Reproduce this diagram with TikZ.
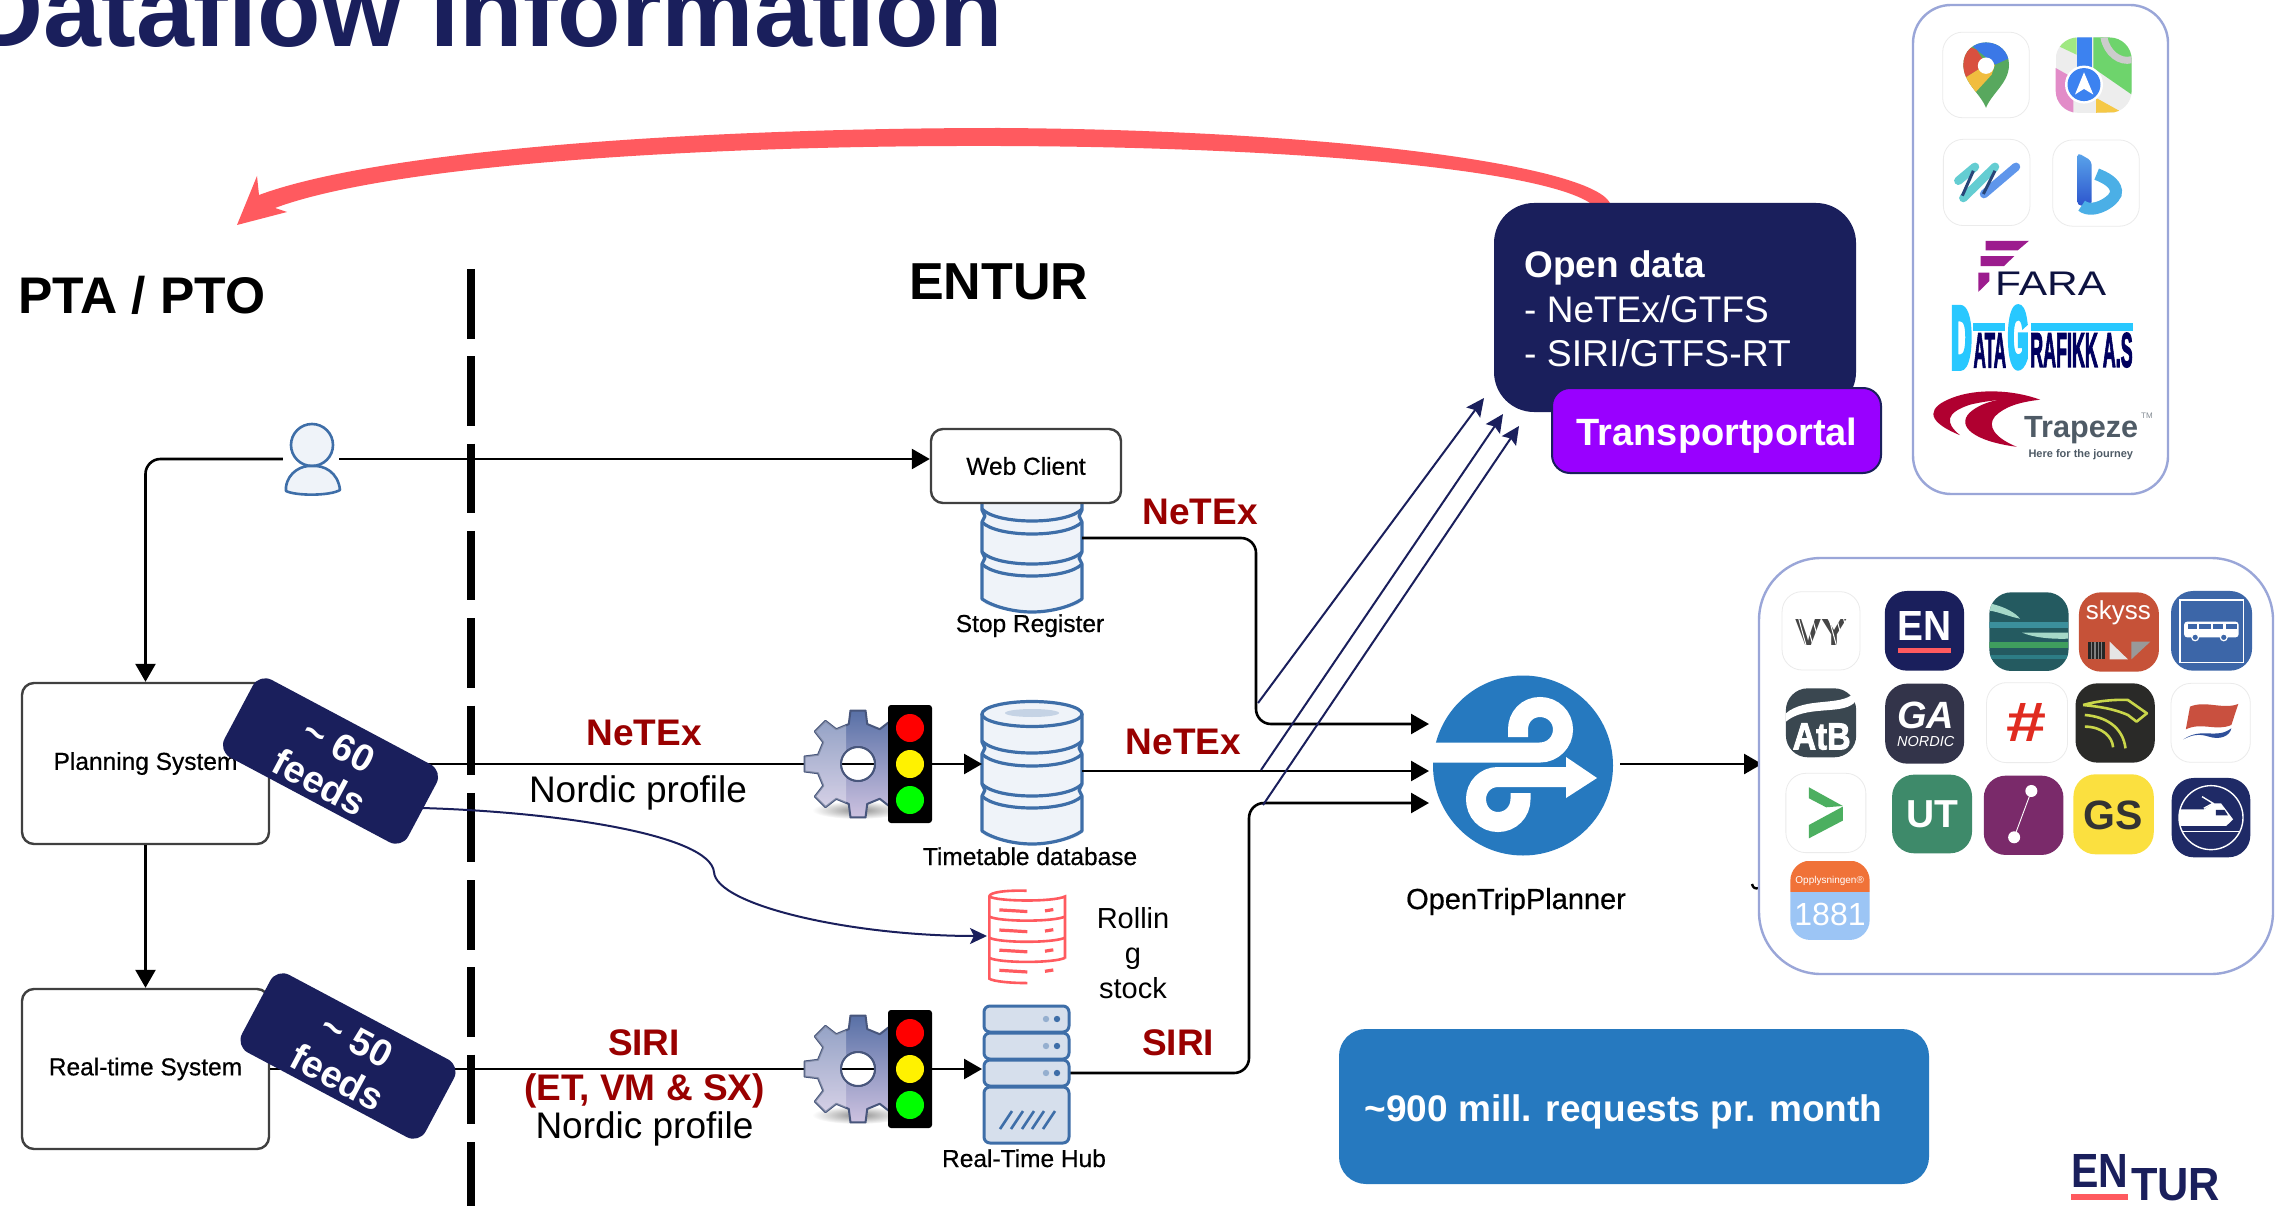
\documentclass[tikz,border=0pt]{standalone}
\usepackage{fontspec}
\setmainfont{Liberation Sans}
\newfontfamily\semib[FakeBold=0.6]{Liberation Sans}
\newfontfamily\heavyb[UprightFont={* Bold},FakeBold=2.5]{Liberation Sans}
\newcommand{\fatglyph}[2]{\special{pdf:code q #1 w 2 Tr}#2\special{pdf:code Q 0 Tr}}
\usetikzlibrary{arrows.meta,calc}
\definecolor{navy}{HTML}{1A1F5C}
\definecolor{netexred}{HTML}{990000}
\definecolor{coral}{HTML}{FF5A5F}
\definecolor{iconblue}{HTML}{3E6EA8}
\definecolor{iconfill}{HTML}{EFF3F9}
\definecolor{panelline}{HTML}{9AA6D8}
\definecolor{otpblue}{HTML}{2679BF}
\definecolor{geartop}{HTML}{5870A6}
\definecolor{gearbot}{HTML}{CDC2E0}
\definecolor{gearline}{HTML}{48567C}
\definecolor{serverfill}{HTML}{D6DFEC}
\definecolor{portalviolet}{HTML}{9900FF}
\definecolor{gmgreen}{HTML}{58A85E}
\definecolor{gmblue}{HTML}{3B78E7}
\definecolor{gmred}{HTML}{D9503F}
\definecolor{gmyellow}{HTML}{F1BD3F}
\definecolor{amlgreen}{HTML}{A0E882}
\definecolor{amgreen}{HTML}{6ED46C}
\definecolor{ampink}{HTML}{E28CC8}
\definecolor{amyellow}{HTML}{F5C846}
\definecolor{amblue}{HTML}{3C82F0}
\definecolor{wuteal}{HTML}{64CDD2}
\definecolor{wublue}{HTML}{5F96EB}
\definecolor{wudark}{HTML}{284678}
\definecolor{bingtop}{HTML}{5AA5EB}
\definecolor{bingbot}{HTML}{2D55CD}
\definecolor{bingbowl}{HTML}{4BAFE6}
\definecolor{farapurple}{HTML}{9C1C8E}
\definecolor{faranavy}{HTML}{0D1240}
\definecolor{dgcyan}{HTML}{28C8FF}
\definecolor{dgnavy}{HTML}{00005F}
\definecolor{trapred}{HTML}{B00030}
\definecolor{trapgray}{HTML}{4F5B66}
\definecolor{vygray}{HTML}{464646}
\definecolor{tealbase}{HTML}{245A60}
\definecolor{tealband}{HTML}{3B8F9C}
\definecolor{tealgreen}{HTML}{3F9E5E}
\definecolor{tealdark}{HTML}{2D7D85}
\definecolor{tealmint}{HTML}{A5D8C8}
\definecolor{skyssred}{HTML}{C65238}
\definecolor{busblue}{HTML}{3C66A8}
\definecolor{atbgray}{HTML}{3A4750}
\definecolor{gagray}{HTML}{33344A}
\definecolor{hashred}{HTML}{E02B20}
\definecolor{horseblack}{HTML}{2A2A28}
\definecolor{horsegreen}{HTML}{C9D64A}
\definecolor{flagred}{HTML}{C9503F}
\definecolor{flagblue}{HTML}{2E4F9A}
\definecolor{chevgreen}{HTML}{4CAF60}
\definecolor{utgreen}{HTML}{3E8A6A}
\definecolor{purpletile}{HTML}{7A2A6A}
\definecolor{gsyellow}{HTML}{FBE03F}
\definecolor{trainblue}{HTML}{1F2A66}
\definecolor{infoorange}{HTML}{F07238}
\definecolor{infoblue}{HTML}{9CC5F5}
\newcommand{\fsz}[1]{\fontsize{#1}{#1}\selectfont}
\newcommand{\tilebox}[5]{\path[rounded corners=22pt,fill=#5] (#1,#2) rectangle (#3,#4);}
\newcommand{\whitetile}[4]{\path[rounded corners=20pt,fill=white,draw=black!8,line width=0.8pt] (#1,#2) rectangle (#3,#4);}
\tikzset{
  txt/.style={inner sep=0pt,anchor=base},
  sysbox/.style={draw=black!75,line width=2.4pt,fill=white,rounded corners=12pt,inner sep=0pt,font=\semib\fsz{24.5}},
  feedbadge/.style={fill=navy,rounded corners=14pt,minimum width=208pt,minimum height=88pt,inner sep=0pt,rotate=-28},
  feedtext/.style={text=white,font=\bfseries\fsz{38},rotate=-28,align=center,inner sep=0pt},
  conn/.style={draw=black,line width=2.6pt,rounded corners=15pt},
  arr/.style={conn,-{Triangle[length=18pt,width=20pt]}},
  navyarr/.style={draw=navy,line width=2pt,-{Stealth[length=18pt,width=17pt,inset=3pt]}},
  redlabel/.style={txt,text=netexred,font=\bfseries\fsz{37}},
  blacklabel/.style={txt,text=black,font=\fsz{37}},
  iconlabel/.style={txt,text=black,font=\semib\fsz{24.5}},
  pics/dbicon/.style={code={
    \path[fill=iconfill] (0,13) -- (0,130) .. controls (0,139) and (30,143) .. (50,143) .. controls (70,143) and (100,139) .. (100,130) -- (100,13) -- cycle;
    \draw[draw=iconblue,line width=3.2pt,line join=round]
      (0,13) -- (0,41) -- (3,47) -- (0,53) -- (0,83) -- (3,89) -- (0,95) -- (0,130)
      .. controls (10,137) and (30,143) .. (50,143) .. controls (70,143) and (90,137) .. (100,130)
      -- (100,95) -- (97,89) -- (100,83) -- (100,53) -- (97,47) -- (100,41) -- (100,13);
    \draw[draw=iconblue,line width=3.2pt,fill=iconfill] (50,13) ellipse (50pt and 12.5pt);
    \fill[fill=iconblue!30] (50,12) ellipse (27pt and 4pt);
    \foreach \yy in {40,53,83,95}{
      \draw[draw=iconblue,line width=3.2pt] (0,\yy) .. controls (15,\yy+16) and (85,\yy+16) .. (100,\yy);
    }
  }},
  pics/gearicon/.style={code={
    \shade[inner color=black!55,outer color=white,opacity=0.8] (0,46) ellipse (46pt and 9pt);
    \shade[top color=geartop,bottom color=gearbot,draw=gearline,line width=2pt,even odd rule,line join=round]
      (-13:41) \foreach \a in {0,45,...,315}{ -- (\a-13:41) -- (\a-8:54) -- (\a+8:54) -- (\a+13:41) } -- cycle (0,0) circle (17pt);
    \begin{scope}
      \clip (-60,-60) rectangle (-12,60);
      \fill[white,opacity=0.32,even odd rule]
        (-13:41) \foreach \a in {0,45,...,315}{ -- (\a-13:41) -- (\a-8:54) -- (\a+8:54) -- (\a+13:41) } -- cycle (0,0) circle (17pt);
    \end{scope}
    \fill[white] (0,0) circle (16pt);
    \draw[black,line width=2.6pt] (-16,0) -- (16,0);
    \draw[gearline,line width=2pt] (0,0) circle (17pt);
  }},
  pics/lighticon/.style={code={
    \fill[black,rounded corners=3pt] (-22,-59) rectangle (22,59);
    \fill[red] (0,-36) circle (14pt);
    \fill[yellow] (0,0) circle (14pt);
    \fill[green] (0,36) circle (14pt);
  }},
}
\begin{document}
\begin{tikzpicture}[x=1pt,y=-1pt,line cap=butt]
\useasboundingbox (0,0) rectangle (2280,1206);
\fill[white] (0,0) rectangle (2280,1206);
\clip (0,0) rectangle (2280,1206);

% titles
\node[txt,anchor=base east,text=navy,font=\bfseries\fsz{104}] (title) at (1003,47) {Dataflow Information};
\node[txt,anchor=base west,font=\bfseries\fsz{51.5}] (pta) at (18,313) {PTA / PTO};
\node[txt,anchor=base west,font=\bfseries\fsz{52}] (enturlbl) at (909,299) {ENTUR};

% separator
\coordinate (septop) at (471,269);
\coordinate (sepbot) at (471,1206);
\draw[black,line width=8.4pt,dash pattern=on 69.5pt off 17.8pt] (septop) -- (sepbot);

% systems
\node[sysbox,minimum width=247pt,minimum height=161pt] (planning) at (145.5,763.5) {Planning System};
\node[sysbox,minimum width=247pt,minimum height=160pt] (realtime) at (145.5,1069) {Real-time System};

% user
\node[inner sep=0pt,minimum width=56pt,minimum height=70pt] (user) at (311,459) {};
\draw[iconblue,line width=2.6pt,fill=iconfill] (312,445) circle (21pt);
\draw[iconblue,line width=2.6pt,fill=iconfill,line join=round] (286,487) .. controls (288,472) and (302,465) .. (312,466) .. controls (324,465) and (338,472) .. (340,490) .. controls (330,496) and (296,496) .. (286,491) -- cycle;

% stop register, timetable
\pic at (982,469) {dbicon};
\pic at (982,701) {dbicon};
\node[iconlabel] (stoplbl) at (1030,632) {Stop Register};
\node[iconlabel] (ttlbl) at (1030,865) {Timetable database};

% web client
\node[sysbox,minimum width=190pt,minimum height=74pt] (web) at (1026,466) {Web Client};

% connectors
\draw[arr] (user.west) -| (planning.north);
\draw[arr] (user.east) -- (web.west |- user.east);
\draw[arr] (planning.south) -- (realtime.north);

\coordinate (ttin) at (982,764);
\coordinate (hubin) at (982,1069);
\coordinate (stopout) at (1082,538);
\coordinate (ttout) at (1082,771);
\coordinate (hubout) at (1069,1073);
\coordinate (otpa) at (1429,724);
\coordinate (otpb) at (1429,771);
\coordinate (otpc) at (1429,803);
\coordinate (otpout) at (1620,764);
\coordinate (appsin) at (1762,764);
\draw[arr] (planning.east |- ttin) -- (ttin);
\draw[arr] (realtime.east) -- (hubin);
\draw[arr] (stopout) -- (1256,538) -- (1256,724) -- (otpa);
\draw[arr] (ttout) -- (otpb);
\draw[arr] (hubout) -- (1249,1073) -- (1249,803) -- (otpc);
\draw[arr] (otpout) -- (appsin);

% gears and traffic lights
\pic at (858,764) {gearicon};
\pic at (858,1069) {gearicon};
\pic at (910,764) {lighticon};
\pic at (910,1069) {lighticon};

% OTP logo
\node[circle,fill=otpblue,minimum size=180pt,inner sep=0pt] (otp) at (1523,765.5) {};
\draw[white,line width=20pt] (1430,752.5) -- (1540,752.5) .. controls (1552.7,752.5) and (1563,742.2) .. (1563,729.5) .. controls (1563,716.8) and (1552.7,707) .. (1540,707) .. controls (1527.3,707) and (1518,716.8) .. (1518,729.5) -- (1518,737);
\draw[white,line width=20pt] (1570,777) -- (1498,777) .. controls (1485.3,777) and (1476,787) .. (1476,799) .. controls (1476,812) and (1485.3,822) .. (1498,822) .. controls (1510.7,822) and (1520.5,812) .. (1520.5,799) -- (1520.5,793);
\fill[white] (1566,757) -- (1597,778) -- (1566,798) -- cycle;
\node[txt,font=\semib\fsz{29}] (otplbl) at (1516,909) {OpenTripPlanner};

% labels
\node[redlabel] at (1200,524) {NeTEx};
\node[redlabel] at (1183.5,754.5) {NeTEx};
\node[redlabel] at (644,745) {NeTEx};
\node[blacklabel] at (638,802) {Nordic profile};
\node[redlabel] at (644,1055) {SIRI};
\node[redlabel] at (644.5,1100) {(ET, VM \& SX)};
\node[blacklabel] at (644.5,1138) {Nordic profile};
\node[redlabel] at (1178,1055) {SIRI};

% rolling stock icon
\begin{scope}[shift={(780,680)},x=0.3333pt,y=-0.3356pt,draw=coral,line width=2.6pt]
  \draw (740,628) .. controls (680,626) and (628,632) .. (628,645) -- (628,890) .. controls (640,898) and (690,903) .. (742,903);
  \draw (628,645) .. controls (650,660) and (820,662) .. (855,645) -- (855,830);
  \foreach \vv in {705,768,828}{
    \draw (628,\vv) .. controls (660,\vv+16) and (820,\vv+16) .. (855,\vv);
  }
  \foreach \vv in {0,60,120,180}{
    \draw[line width=3.2pt] (658,685+\vv) -- (742,690+\vv);
    \draw[line width=3.2pt] (795,688+\vv) -- (820,684+\vv);
  }
\end{scope}
\node[txt,font=\fsz{29}] at (1133,928) {Rollin};
\node[txt,font=\fsz{29}] at (1133,963) {g};
\node[txt,font=\fsz{29}] at (1133,998) {stock};

% server icon
\begin{scope}[draw=iconblue,line width=3pt]
  \foreach \ya/\yb in {1006/1032,1033/1059,1060/1086,1087/1143}{
    \path[fill=serverfill,draw=iconblue,line width=3pt,rounded corners=6pt] (984,\ya) rectangle (1069,\yb);
  }
  \foreach \yy in {1019,1046,1073}{
    \fill[iconblue!55] (1046,\yy) circle (3.2pt);
    \fill[iconblue] (1057,\yy) circle (3.2pt);
  }
  \foreach \xx in {1000,1011,1022,1032,1043}{
    \draw[line width=2.6pt] (\xx,1129) -- (\xx+12,1111);
  }
\end{scope}
\node[iconlabel] (hublbl) at (1024,1167) {Real-Time Hub};

% blue curve to rolling stock
\coordinate (curvestart) at (422,808);
\coordinate (curveend) at (987,936);
\draw[navy,line width=2pt,-{Stealth[length=17pt,width=16pt,inset=4pt]}] (curvestart) .. controls (560,812) and (710,835) .. (714,872) .. controls (716,905) and (850,936) .. (curveend);

% feed badges
\node[feedbadge] (feed60) at (330.5,761) {};
\node[feedtext] at (329,764) {\textasciitilde{} 60\\[4pt]feeds};
\node[feedbadge] (feed50) at (348,1056) {};
\node[feedtext] at (347,1059) {\textasciitilde{} 50\\[4pt]feeds};

% red arrow
\coordinate (redtip) at (237,225);
\fill[coral] (1610,203) .. controls (1590,165) and (1330,130) .. (1000,128) .. controls (700,128) and (380,150) .. (259,195)
  -- (257,176) -- (redtip) -- (287,212) -- (275,208)
  .. controls (390,165) and (700,145) .. (1000,146) .. controls (1300,147) and (1540,170) .. (1590,203) -- cycle;

% open data
\node[fill=navy,rounded corners=40pt,minimum width=362pt,minimum height=209pt,inner sep=0pt] (opendata) at (1675,307.5) {};
\node[txt,anchor=base west,text=white,font=\bfseries\fsz{37}] at (1524,277) {Open data};
\node[txt,anchor=base west,text=white,font=\fsz{37}] at (1524,322) {- NeTEx/GTFS};
\node[txt,anchor=base west,text=white,font=\fsz{37.3}] at (1524,366) {- SIRI/GTFS-RT};
\node[draw=navy,line width=2pt,fill=portalviolet,rounded corners=18pt,minimum width=329pt,minimum height=85pt,inner sep=0pt] (portal) at (1716.5,430.5) {};
\node[txt,text=white,font=\bfseries\fsz{38}] at (1717,445) {Transportportal};

% navy arrows to open data
\coordinate (ra) at (1258,703); \coordinate (rb) at (1261,770); \coordinate (rc) at (1263,805);
\coordinate (ta) at (1484,398); \coordinate (tb) at (1503,414); \coordinate (tc) at (1519,426);
\draw[navyarr] (ra) -- (ta);
\draw[navyarr] (rb) -- (tb);
\draw[navyarr] (rc) -- (tc);

% ~900 box
\node[fill=otpblue,rounded corners=27pt,minimum width=590pt,minimum height=155pt,inner sep=0pt] (reqs) at (1634,1106.5) {};
\node[txt,text=white,font=\bfseries\fsz{37}] at (1623.5,1121) {\textasciitilde900 mill. requests pr. month};

% ENTUR logo
\node[inner sep=0pt,anchor=north west,text=navy] at (2071,1154) {\resizebox{57pt}{33pt}{\bfseries EN}};
\node[inner sep=0pt,anchor=north west,text=navy] at (2131,1168) {\resizebox{89pt}{32pt}{\bfseries TUR}};
\fill[coral] (2071,1194) rectangle (2128,1200);

% small stray mark
\draw[black,line width=2.4pt] (1752,884) .. controls (1753,888) and (1755,889) .. (1759,888);

% ==== upper panel ====
\node[draw=panelline,line width=2.4pt,fill=white,rounded corners=38pt,minimum width=255pt,minimum height=489pt,inner sep=0pt] (panelA) at (2040.5,249.5) {};
\begin{scope}[shift={(1880,0)},x=0.3333pt,y=-0.3317pt]
  % Google Maps
  \whitetile{188}{97}{448}{355}
  \begin{scope}
    \clip (318,325) .. controls (300,280) and (250,250) .. (250,195) .. controls (250,155) and (280,128) .. (318,128) .. controls (356,128) and (387,155) .. (387,195) .. controls (387,250) and (336,280) .. (318,325) -- cycle;
    \fill[gmgreen] (240,120) rectangle (400,330);
    \fill[gmblue] (260,120) -- (400,120) -- (400,170) -- (345,195) -- (290,150) -- cycle;
    \fill[gmred] (240,130) -- (290,150) -- (318,195) -- (255,235) -- (240,235) -- cycle;
    \fill[gmyellow] (255,235) -- (318,195) -- (345,195) -- (335,225) -- (285,280) -- cycle;
  \end{scope}
  \fill[white] (318,198) circle (8.2pt);
  % Apple Maps
  \begin{scope}
    \clip[rounded corners=22pt] (527,113) rectangle (755,340);
    \fill[black!7] (527,113) rectangle (755,340);
    \fill[amlgreen] (527,113) -- (590,113) -- (590,165) -- (527,135) -- cycle;
    \fill[amgreen] (640,113) -- (755,113) -- (755,285) -- (640,205) -- cycle;
    \fill[ampink] (527,205) -- (580,235) -- (580,340) -- (527,340) -- cycle;
    \fill[amyellow] (648,295) -- (725,338) -- (648,340) -- cycle;
    \fill[amblue] (590,113) rectangle (637,215);
    \draw[black!20,line width=7pt] (672,113) .. controls (680,160) and (720,190) .. (755,180);
  \end{scope}
  \fill[white] (612,255) circle (19pt);
  \fill[amblue] (612,255) circle (16.5pt);
  \fill[white] (612,218) -- (640,285) -- (612,268) -- (585,285) -- cycle;
  % Wunder
  \whitetile{190}{420}{450}{680}
  \draw[wuteal,line width=8.5pt,line cap=round] (235,545) -- (285,503);
  \draw[wuteal,line width=8.5pt,line cap=round] (250,597) -- (345,503);
  \draw[wublue,line width=8.5pt,line cap=round] (312,585) -- (408,503);
  \draw[wudark,line width=3pt] (247,590) -- (280,515);
  \draw[wudark,line width=3pt] (310,585) -- (345,515);
  % Bing
  \whitetile{518}{422}{778}{682}
  \shade[top color=bingtop,bottom color=bingbot,rounded corners=4pt] (592,460) -- (635,485) -- (635,620) -- (592,620) -- cycle;
  \draw[bingbowl,line width=12pt] (605,620) .. controls (640,650) and (715,600) .. (708,575) .. controls (705,550) and (675,535) .. (650,525);
  % FARA
  \fill[farapurple] (317,726) -- (447,726) -- (413,755) -- (317,755) -- cycle;
  \fill[farapurple] (302,772) -- (403,772) -- (372,802) -- (302,802) -- cycle;
  \fill[farapurple] (295,822) -- (328,822) -- (328,847) -- (295,880) -- cycle;
  \node[inner sep=0pt,anchor=south west,text=faranavy] at (345,892) {\resizebox{111pt}{23.5pt}{FARA}};
  % Datagrafikk
  \node[inner sep=0pt,anchor=south west,text=dgcyan] at (213,1108) {\resizebox{20.5pt}{59pt}{\fatglyph{0.8}{\bfseries D}}};
  \node[inner sep=0pt,anchor=south west,text=dgcyan] at (383,1108) {\resizebox{20.5pt}{59pt}{\fatglyph{0.8}{\bfseries G}}};
  \node[inner sep=0pt,anchor=south west,text=dgnavy] at (280,1108) {\resizebox{32.5pt}{34pt}{\fatglyph{0.3}{\bfseries ATA}}};
  \node[inner sep=0pt,anchor=south west,text=dgnavy] at (450,1108) {\resizebox{102.5pt}{34pt}{\fatglyph{0.3}{\bfseries RAFIKK A.S}}};
  \fill[dgcyan] (280,975) rectangle (375,998);
  \fill[dgcyan] (452,975) rectangle (758,998);
  % Trapeze
  \fill[trapred] (480,1205) .. controls (400,1175) and (290,1170) .. (215,1200) .. controls (150,1225) and (125,1265) .. (240,1312) .. controls (195,1275) and (195,1245) .. (270,1220) .. controls (340,1203) and (420,1200) .. (480,1205) -- cycle;
  \fill[trapred] (480,1205) .. controls (400,1190) and (310,1205) .. (268,1245) .. controls (230,1285) and (280,1330) .. (410,1347) .. controls (345,1320) and (320,1285) .. (345,1255) .. controls (375,1225) and (420,1212) .. (480,1205) -- cycle;
  \node[inner sep=0pt,anchor=base west,text=trapgray] at (432,1318) {\resizebox{114pt}{!}{\bfseries Trapeze}};
  \node[inner sep=0pt,anchor=base west,text=trapgray!70,font=\fsz{8}] at (783,1262) {TM};
  \node[inner sep=0pt,anchor=base west,text=trapgray,font=\bfseries\fsz{11}] at (445,1380) {Here for the journey};
\end{scope}

% ==== lower panel ====
\node[draw=panelline,line width=2.4pt,fill=white,rounded corners=62pt,minimum width=514pt,minimum height=416pt,inner sep=0pt] (panelB) at (2016,766) {};
\begin{scope}[shift={(1740,540)},x=0.3448pt,y=-0.3333pt]
  % Vy
  \whitetile{122}{155}{348}{390}
  \node[inner sep=0pt,text=vygray] at (237,277) {\resizebox{52pt}{26pt}{\bfseries VY}};
  \foreach \uu in {170,190,210,258,280,300}{
    \draw[white,line width=1pt] (\uu,235) -- (\uu+22,318);
  }
  % EN
  \tilebox{420}{153}{650}{392}{navy}
  \node[inner sep=0pt,anchor=south west,text=white] at (455,301) {\resizebox{54pt}{29pt}{\bfseries EN}};
  \fill[coral] (458,325) rectangle (612,340);
  % teal
  \tilebox{723}{157}{953}{393}{tealbase}
  \begin{scope}
    \clip[rounded corners=22pt] (723,157) rectangle (953,393);
    \fill[tealband] (723,245) rectangle (953,265);
    \fill[tealgreen] (723,305) rectangle (953,325);
    \fill[tealdark] (723,345) rectangle (953,358);
    \fill[tealmint] (723,190) .. controls (770,200) and (800,220) .. (812,236) .. controls (780,230) and (750,215) .. (723,212) -- cycle;
    \fill[tealmint] (953,278) .. controls (900,278) and (850,278) .. (818,278) .. controls (850,292) and (900,298) .. (953,296) -- cycle;
  \end{scope}
  % skyss
  \tilebox{983}{157}{1215}{395}{skyssred}
  \node[txt,anchor=base,text=white,font=\fsz{26}] at (1097,240) {skyss};
  \fill[black!85] (1010,305) rectangle (1058,358);
  \foreach \uu in {1018,1028,1038,1048}{ \fill[white!50!black] (\uu,305) rectangle (\uu+3,358); }
  \fill[white!90!black] (1072,305) -- (1125,358) -- (1072,358) -- cycle;
  \fill[white!60!black] (1135,305) -- (1190,305) -- (1135,358) -- cycle;
  % bus
  \tilebox{1250}{153}{1485}{392}{busblue}
  \draw[white,line width=1.4pt] (1276,180) rectangle (1460,367);
  \path[fill=white,rounded corners=3pt] (1288,245) rectangle (1446,292);
  \fill[busblue] (1300,252) rectangle (1325,268);
  \fill[busblue] (1332,252) rectangle (1365,268);
  \fill[busblue] (1372,252) rectangle (1402,268);
  \fill[busblue] (1408,252) rectangle (1442,268);
  \draw[white,fill=busblue,line width=1.2pt] (1320,292) circle (3.4pt);
  \draw[white,fill=busblue,line width=1.2pt] (1403,292) circle (3.4pt);
  % AtB
  \tilebox{133}{445}{337}{652}{atbgray}
  \fill[white] (133,520) .. controls (190,470) and (290,500) .. (330,460) .. controls (340,470) and (335,485) .. (330,490) .. controls (290,525) and (190,495) .. (133,545) -- cycle;
  \node[inner sep=0pt,anchor=south west,text=white] at (152,630) {\resizebox{58pt}{26pt}{\heavyb AtB}};
  % GA
  \tilebox{421}{431}{650}{671}{gagray}
  \node[inner sep=0pt,anchor=base west,text=white,font=\bfseries\itshape\fsz{38}] at (455,565) {GA};
  \node[inner sep=0pt,anchor=base west,text=white,font=\itshape\fsz{14.5}] at (455,620) {NORDIC};
  % hash
  \whitetile{715}{428}{950}{668}
  \node[inner sep=0pt,text=hashred] at (832,548) {\resizebox{40pt}{38pt}{\bfseries \#}};
  % horse
  \tilebox{973}{430}{1203}{668}{horseblack}
  \begin{scope}[draw=horsegreen,line width=2.6pt,line join=round]
    \draw (995,495) .. controls (1040,482) and (1090,478) .. (1125,480) -- (1180,520) -- (1150,545) -- (1125,525) .. controls (1080,505) and (1040,500) .. (995,495);
    \draw (1000,525) .. controls (1060,530) and (1110,560) .. (1118,625);
    \draw (1000,560) .. controls (1050,560) and (1080,590) .. (1082,622);
  \end{scope}
  % flag
  \whitetile{1250}{430}{1480}{667}
  \fill[flagred] (1305,500) .. controls (1350,480) and (1400,510) .. (1445,492) -- (1425,555) .. controls (1380,575) and (1340,545) .. (1293,568) -- cycle;
  \fill[flagblue] (1286,598) .. controls (1340,560) and (1380,600) .. (1425,565) .. controls (1420,590) and (1390,600) .. (1360,590) .. controls (1330,580) and (1310,585) .. (1286,598) -- cycle;
  % chevron
  \whitetile{133}{700}{365}{938}
  \fill[chevgreen] (200,742) -- (298,798) -- (250,802) -- (200,775) -- cycle;
  \fill[chevgreen] (298,800) -- (298,842) -- (200,895) -- (200,855) -- cycle;
  % UT
  \tilebox{441}{704}{673}{940}{utgreen}
  \node[inner sep=0pt,anchor=base,text=white,font=\bfseries\fsz{39}] at (558,862) {UT};
  % purple
  \tilebox{707}{707}{938}{945}{purpletile}
  \draw[white,line width=0.9pt] (845,753) -- (795,892);
  \fill[white] (845,753) circle (6pt);
  \fill[white] (795,892) circle (6pt);
  % GS
  \tilebox{967}{703}{1200}{943}{gsyellow}
  \node[inner sep=0pt,anchor=base,text=black!80,font=\bfseries\fsz{41}] at (1083,868) {GS};
  % train
  \tilebox{1252}{714}{1480}{952}{trainblue}
  \begin{scope}
    \clip (1366,833) ellipse (32pt and 32pt);
    \fill[white] (1270,790) -- (1395,790) -- (1430,838) -- (1410,858) -- (1270,858) -- cycle;
    \fill[trainblue] (1380,810) -- (1405,810) -- (1415,826) -- (1380,826) -- cycle;
    \draw[white,line width=1.2pt] (1270,875) -- (1460,875);
    \fill[trainblue] (1270,770) -- (1345,770) -- (1372,790) -- (1345,808) -- (1270,808) -- cycle;
  \end{scope}
  \draw[white,line width=1.4pt] (1340,770) -- (1372,790) -- (1345,805);
  \draw[white,line width=1.4pt] (1366,833) ellipse (32pt and 32pt);
  % 1881
  \begin{scope}
    \clip[rounded corners=20pt] (146,962) rectangle (376,1200);
    \fill[infoorange] (146,962) rectangle (376,1057);
    \fill[infoblue] (146,1057) rectangle (376,1200);
  \end{scope}
  \node[inner sep=0pt,anchor=base,text=white,font=\fsz{10}] at (260,1030) {Opplysningen®};
  \node[inner sep=0pt,anchor=base,text=white,font=\fsz{32}] at (261,1157) {1881};
\end{scope}
\end{tikzpicture}
\end{document}
